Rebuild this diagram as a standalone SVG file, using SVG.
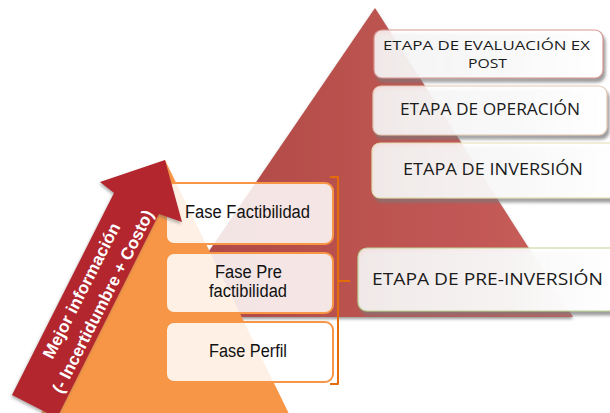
<svg xmlns="http://www.w3.org/2000/svg" width="610" height="413" viewBox="0 0 610 413">
<defs>
<linearGradient id="gRed" x1="0" y1="0" x2="1" y2="0">
<stop offset="0" stop-color="#AD4744"/>
<stop offset="1" stop-color="#C95E5B"/>
</linearGradient>
<linearGradient id="gBox" x1="0" y1="0" x2="1" y2="0">
<stop offset="0" stop-color="#FFFFFF" stop-opacity="0.82"/>
<stop offset="0.6" stop-color="#FFFFFF" stop-opacity="0.9"/>
<stop offset="1" stop-color="#FFFFFF" stop-opacity="1"/>
</linearGradient>
<filter id="shBox" x="-5%" y="-20%" width="115%" height="150%">
<feDropShadow dx="2" dy="4" stdDeviation="1.5" flood-color="#7a7a7a" flood-opacity="0.75"/>
</filter>
<filter id="shTri" x="-5%" y="-5%" width="110%" height="115%">
<feDropShadow dx="0" dy="2" stdDeviation="1.5" flood-color="#555" flood-opacity="0.6"/>
</filter>
<filter id="shArrow" x="-10%" y="-10%" width="130%" height="130%">
<feDropShadow dx="-1" dy="2" stdDeviation="1.5" flood-color="#666" flood-opacity="0.5"/>
</filter>
<style>
.etapa{filter:url(#shBox);fill:url(#gBox);stroke-width:1.2}
.etxt{font-family:"Open Sans","DejaVu Sans",sans-serif;fill:#1b1b1b}
.fase{fill:#FFFFFF;fill-opacity:0.86;stroke:#F79646;stroke-width:2}
.ftxt{font-family:"Liberation Sans",Arial,sans-serif;font-size:18px;fill:#111}
.atxt{font-family:"Liberation Sans",Arial,sans-serif;font-size:17px;font-weight:bold;fill:#FFFFFF;text-anchor:middle}
</style>
</defs>
<rect width="610" height="413" fill="#FFFFFF"/>

<g id="piramide-etapas">
<polygon points="375,8 164,317 573,317" fill="url(#gRed)" filter="url(#shTri)"/>
</g>

<g id="etapa-evaluacion">
<rect class="etapa" x="374" y="30" width="229" height="48" rx="8" stroke="#D79592"/>
<text class="etxt" x="383" y="49.5" font-size="12.8" textLength="207" lengthAdjust="spacingAndGlyphs">ETAPA DE EVALUACIÓN EX</text>
<text class="etxt" x="468" y="67.5" font-size="12.8" textLength="39" lengthAdjust="spacingAndGlyphs">POST</text>
</g>
<g id="etapa-operacion">
<rect class="etapa" x="373" y="86" width="234" height="49" rx="8" stroke="#E2C7B3"/>
<text class="etxt" x="400" y="115" font-size="16" textLength="180" lengthAdjust="spacingAndGlyphs">ETAPA DE OPERACIÓN</text>
</g>
<g id="etapa-inversion">
<rect class="etapa" x="372" y="143" width="250" height="55" rx="8" stroke="#E4DBAE"/>
<text class="etxt" x="403" y="175" font-size="15.5" textLength="180" lengthAdjust="spacingAndGlyphs">ETAPA DE INVERSIÓN</text>
</g>
<g id="etapa-preinversion">
<rect class="etapa" x="358" y="248" width="264" height="63" rx="9" stroke="#BDD395"/>
<text class="etxt" x="372" y="285" font-size="17" textLength="231" lengthAdjust="spacingAndGlyphs">ETAPA DE PRE-INVERSIÓN</text>
</g>

<g id="piramide-fases">
<polygon points="165,160 38,420 292,420" fill="#F79646"/>
</g>

<g id="fase-factibilidad">
<rect class="fase" x="166" y="183" width="167" height="61" rx="8"/>
<text class="ftxt" x="185" y="218" textLength="125" lengthAdjust="spacingAndGlyphs">Fase Factibilidad</text>
</g>
<g id="fase-prefactibilidad">
<rect class="fase" x="166" y="253" width="167" height="60" rx="8"/>
<text class="ftxt" x="215" y="278" textLength="67" lengthAdjust="spacingAndGlyphs">Fase Pre</text>
<text class="ftxt" x="209" y="297" textLength="78" lengthAdjust="spacingAndGlyphs">factibilidad</text>
</g>
<g id="fase-perfil">
<rect class="fase" x="166" y="322" width="167" height="60" rx="8"/>
<text class="ftxt" x="209" y="357" textLength="78" lengthAdjust="spacingAndGlyphs">Fase Perfil</text>
</g>

<g id="conectores" fill="none" stroke="#E46C0A" stroke-width="2" stroke-linejoin="round">
<path d="M330,177 H338 V384 H330"/>
<path d="M338,281 H350"/>
</g>

<g id="flecha-informacion">
<polygon points="165,160 182,222 159,214 57,418 12,395 114,193 100,182" fill="#B3262E" filter="url(#shArrow)"/>
<g transform="translate(92,296) rotate(-63)">
<text class="atxt" x="0" y="-6" textLength="150" lengthAdjust="spacingAndGlyphs">Mejor información</text>
<text class="atxt" x="0" y="18" textLength="203" lengthAdjust="spacingAndGlyphs">(- Incertidumbre + Costo)</text>
</g>
</g>
</svg>
